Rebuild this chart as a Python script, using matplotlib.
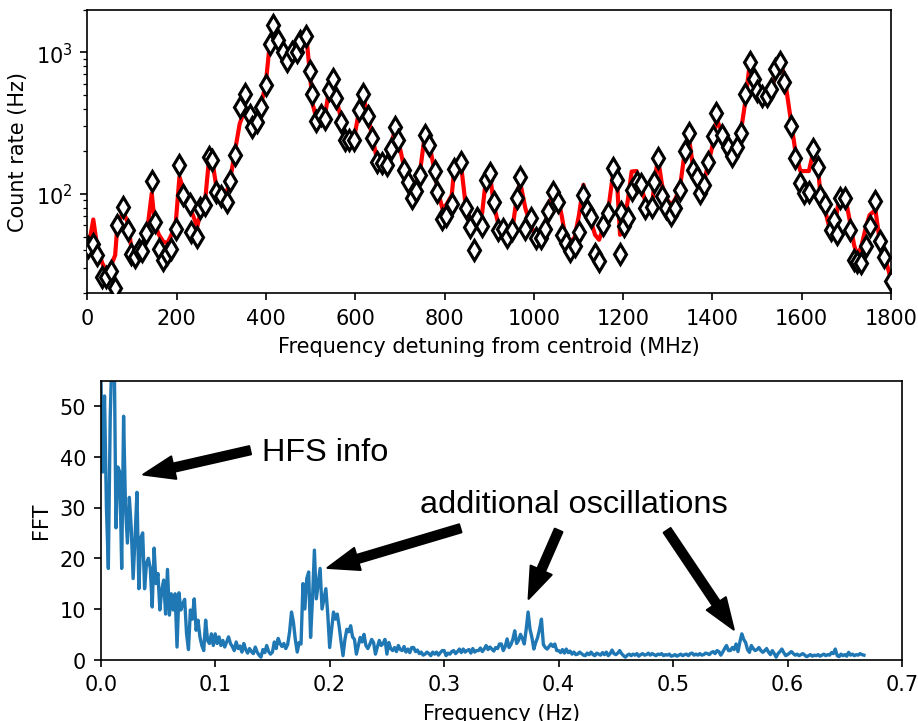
import numpy as np
import matplotlib
matplotlib.use("Agg")
import matplotlib.pyplot as plt

# ---------------- laser scan: count rate vs detuning ----------------
detuning_mhz = [
    2, 13, 22, 33, 42, 52, 62, 67, 80, 91, 98, 106, 115, 123, 132, 144,
    151, 160, 170, 179, 188, 198, 206, 215, 230, 233, 246, 253, 263, 272,
    280, 289, 300, 312, 319, 330, 341, 353, 365, 369, 379, 388, 399, 409,
    416, 427, 439, 448,
    459, 469, 477, 490, 498, 504, 511, 524, 532, 541, 550, 556, 569, 577,
    586, 597, 608, 618, 628, 638, 648, 660, 672, 679, 689, 696, 710, 718,
    726, 735, 745, 756, 766, 778, 784, 795, 804, 816, 822, 836, 847, 857,
    866, 873, 884, 892, 901,
    910, 919, 931, 939, 952, 963, 969, 981, 993, 1004, 1015, 1024, 1032,
    1043, 1054, 1062, 1071, 1081, 1091, 1101, 1111, 1119, 1128, 1137, 1146,
    1155, 1166, 1178, 1187, 1193, 1196, 1202, 1211, 1219, 1230, 1241, 1250,
    1265, 1270, 1278, 1287, 1296, 1308, 1316, 1327, 1338, 1347,
    1356, 1366, 1371, 1381, 1390, 1402, 1409, 1422, 1434, 1444, 1454, 1463,
    1474, 1483, 1493, 1500, 1511, 1523, 1532, 1541, 1552, 1561, 1575, 1586,
    1597, 1605, 1616, 1626, 1636, 1642, 1653, 1666, 1673, 1678, 1685, 1698,
    1708, 1717, 1724, 1733, 1743, 1752, 1765, 1775, 1785, 1799,
]

count_rate_hz = [
    42, 44, 37, 26, 26, 28.5, 21.7, 60, 81, 56, 38, 36, 40.5, 39.5, 53, 123,
    63, 41, 34, 37.5, 41, 57, 160, 98, 85, 54, 50, 79, 83, 181,
    173, 103, 97, 88, 124, 188, 411, 509, 359, 297, 322, 411, 589, 1145,
    1564, 1227, 1011, 873,
    1011, 1000, 1195, 1310, 731, 509, 326, 363, 340, 538, 650, 475, 322, 239,
    239, 239, 389, 509, 355, 249, 169, 164, 161, 209, 297, 242, 148, 121,
    94, 105, 135, 262, 223, 146, 104, 67, 70, 85, 151, 167, 80, 58,
    40.5, 68, 59, 125, 140,
    88, 56, 56.5, 50, 56, 94, 132, 57, 68, 49, 49, 57, 76,
    104, 88, 51.5, 45, 39.8, 42.6, 54, 98, 77, 69, 38, 33.8,
    60.5, 73, 153, 125, 38, 75, 59, 67.5, 107, 122, 117, 80,
    81, 122, 178, 96, 79, 71, 80, 107, 200, 267,
    148, 132, 101, 115, 167, 255, 375, 262, 215, 186, 215, 267,
    509, 851, 643, 529, 491, 491, 553, 764, 851, 615, 302, 178,
    119, 101, 104, 207, 156, 96, 85, 56, 66, 52, 94, 94,
    56, 34, 33, 32.6, 43, 59, 89, 46.8, 36, 24.2,
]

fit_rate_hz = [
    42, 66, 42, 32.6, 28.5, 30.8, 37, 60.5, 75, 62, 42, 37, 40.5, 42.6, 50, 101,
    60.5, 51.5, 46, 45, 51.5, 64, 132, 107, 81, 75, 59, 73, 86, 173,
    169, 110, 101, 104, 122, 198, 313, 400, 359, 340, 363, 422, 583, 1207,
    1459, 1207, 1000, 806,
    948, 973, 1145, 1310, 723, 434, 359, 379, 359, 538, 615, 483, 331, 253,
    239, 246, 379, 483, 359, 253, 178, 169, 173, 221, 282, 239, 151, 116,
    107, 116, 144, 267, 221, 144, 107, 79, 84, 98, 156, 169, 84, 66,
    59, 66, 73, 122, 144,
    84, 64, 56, 51.5, 57, 101, 122, 79, 60.5, 50, 51.5, 57, 77,
    101, 93, 71, 49, 46, 49, 71, 116, 84, 64, 51.5, 47.5,
    57, 75, 144, 110, 51.5, 54, 60.5, 93, 144, 145, 110, 88,
    84, 122, 178, 116, 93, 84, 91, 110, 198, 253,
    160, 132, 107, 122, 160, 233, 340, 267, 221, 198, 221, 267,
    457, 806, 583, 509, 446, 442, 538, 685, 851, 685, 340, 198,
    145, 145, 145, 198, 160, 98, 75, 51.5, 60.5, 71, 101, 93,
    64, 44, 37, 42, 57, 71, 77, 46, 37, 25.6,
]

# dwell time per scan step, used for the Poisson uncertainty of each rate
dwell_s = 2.0

# ---------------- Fourier transform of the scan ----------------
fft_amplitude = [
    58, 37, 52, 30, 18, 48, 62, 64, 26, 38, 37, 18, 48, 30, 23, 32, 26, 16, 24, 33,
    14, 24, 25, 14, 19, 20, 18, 10.4, 22, 15,
    17, 9.8, 13.7, 15.7, 9, 17.8, 8.8, 13, 9.8, 13, 2.5, 13.2, 9.8, 11, 11.9, 5.1,
    2, 9.8, 8, 12, 5.8, 7.8, 4.5, 2.8, 1.8, 7.8, 3.8, 3.2, 5.1, 2.8,
    5.1, 3.2, 4.5, 2.8, 3.8, 2.5, 3.5, 4.5, 3.2, 2.6, 1.8, 3.5, 2.2, 2.7, 1.5, 3.2,
    2.0, 1.3, 2.2, 1.6, 1.2, 2.5, 1.5, 0.9, 0.5, 2.0, 1.4, 2.8, 1.6, 1.1,
    1.5, 3.5, 2.2, 4.2, 3.2, 2.6, 3.2, 2.2, 3.0, 5.5, 9.4, 7.4, 4, 1.5, 3.4, 3.1,
    15, 10, 16, 17.3, 4.4, 12, 21.6, 12, 15, 18, 10, 12, 14, 9,
    2.4, 6, 9.4, 8, 9, 6.5, 3.5, 0.8, 4, 6, 5.5, 6.7, 4.5, 4, 1.1, 2.8, 4.4, 3.5,
    5, 2.8, 2.2, 3, 4, 3.4, 1.1, 2.5, 3.8, 2.8, 3.2, 4,
    1.1, 3.4, 2.2, 1.8, 2.4, 1.6, 2.8, 2.0, 1.8, 2.6, 1.5, 2.1, 1.4, 2.4, 2.4, 1.6,
    1.9, 1.2, 1.5, 0.9, 1.1, 1.5, 1.2, 0.8, 1.5, 1.1, 1.5, 0.9, 1.4, 1.8,
    1.8, 0.8, 1.3, 1.1, 1.6, 1.8, 1.2, 1.6, 2.1, 1.4, 2.1, 1.5, 1.8, 2.0, 1.3, 2.2,
    1.5, 1.8, 1.8, 2.3, 1.6, 2.1, 2.8, 2.0, 2.5, 2.1, 1.7, 2.4, 2.2, 3.1,
    3.1, 1.8, 2.6, 4.1, 2.4, 3.0, 4.0, 5.7, 3.2, 3.8, 5.0, 4.2, 3.1, 6.0, 9.4, 6.0,
    4.4, 2.1, 3.4, 4.4, 6.0, 8.0, 3.0, 2.4, 2.1, 2.6, 3.1, 2.6, 3.1, 1.8,
    1.8, 1.4, 2.0, 1.3, 2.1, 1.4, 1.7, 1.1, 1.5, 1.0, 1.1, 1.5, 1.2, 0.9, 0.8, 1.3,
    1.0, 1.5, 1.0, 0.8, 1.3, 1.1, 0.9, 1.4, 1.0, 1.5, 0.8, 1.2, 1.9, 1.2,
    1.0, 1.3, 1.8, 1.2, 0.8, 0.5, 0.9, 1.1, 0.8, 1.1, 0.9, 1.2, 0.7, 1.0, 1.2, 0.9,
    1.0, 1.3, 0.9, 1.2, 1.0, 0.8, 1.1, 1.0, 1.2, 0.8, 1.0, 0.9, 1.1, 0.7,
    0.8, 1.0, 0.7, 0.9, 1.1, 0.8, 1.0, 1.1, 0.8, 1.2, 1.3, 0.9, 1.1, 0.9, 1.2, 0.9,
    1.0, 1.3, 1.2, 1.0, 1.4, 1.6, 1.2, 1.8, 1.6, 0.9, 1.5, 2.2, 2.8, 1.8,
    1.8, 2.4, 2.0, 3.1, 1.6, 3.5, 5.1, 4.0, 3.4, 2.0, 1.45, 2.8, 2.2, 1.8, 2.0, 2.4,
    1.8, 1.45, 1.8, 2.2, 1.5, 1.0, 1.8, 1.2, 0.5, 1.2, 1.6, 2.1, 1.4, 0.8,
    1.0, 1.3, 1.6, 1.2, 0.9, 1.1, 0.8, 1.0, 1.2, 0.9, 0.6, 0.8, 1.0, 0.7, 0.9, 0.8,
    1.0, 0.7, 0.9, 1.1, 0.8, 1.0, 0.9, 1.4, 1.2, 2.1, 0.8, 0.6, 1.1, 0.8, 1.0, 0.7,
    1.45, 0.9, 1.1, 0.8, 1.0, 0.9, 1.2, 1.0, 0.9,
]
fft_nyquist_hz = 0.6667

x = np.asarray(detuning_mhz, dtype=float)
y = np.asarray(count_rate_hz, dtype=float)
y_fit = np.asarray(fit_rate_hz, dtype=float)
y_err = np.sqrt(y * dwell_s) / dwell_s

fft_amp = np.asarray(fft_amplitude, dtype=float)
fft_freq = np.linspace(0.0, fft_nyquist_hz, len(fft_amp))

fig = plt.figure(figsize=(6.12, 4.813), dpi=150)
ax1 = fig.add_axes([0.0953, 0.5928, 0.8753, 0.3927])
ax2 = fig.add_axes([0.1097, 0.0849, 0.8729, 0.3864])

# top panel: measured rates with the smoothed curve underneath
ax1.plot(x, y_fit, color="red", lw=2.0, zorder=2)
ax1.errorbar(x, y, yerr=y_err, fmt="d", color="black", mfc="white",
             mec="black", ms=6.5, mew=1.5, elinewidth=1.0, capsize=0, zorder=3)
ax1.set_yscale("log")
ax1.set_xlim(0, 1800)
ax1.set_ylim(20, 2000)
ax1.set_xticks(np.arange(0, 1801, 200))
ax1.set_xlabel("Frequency detuning from centroid (MHz)")
ax1.set_ylabel("Count rate (Hz)")

# bottom panel: spectrum of the scan
ax2.plot(fft_freq, fft_amp, color="#1f77b4", lw=1.6)
ax2.set_xlim(0, 0.7)
ax2.set_ylim(0, 55)
ax2.set_yticks([0, 10, 20, 30, 40, 50])
ax2.set_xlabel("Frequency (Hz)")
ax2.set_ylabel("FFT")

note_font = dict(fontsize=15.6, family=["Liberation Sans", "DejaVu Sans"],
                 ha="left", va="baseline")
ax2.text(0.1407, 39.3, "HFS info", **note_font)
ax2.text(0.2791, 29.2, "additional oscillations", **note_font)

arrow_style = dict(facecolor="black", edgecolor="black", width=4,
                   headwidth=11, headlength=15, shrink=0.0)
arrows = [
    ((0.1305, 41.3), (0.0372, 36.5)),
    ((0.3141, 25.9), (0.1981, 18.1)),
    ((0.4000, 25.5), (0.3738, 12.0)),
    ((0.4948, 25.5), (0.5530, 5.94)),
]
for tail, tip in arrows:
    ax2.annotate("", xy=tip, xytext=tail, arrowprops=arrow_style)

fig.savefig("out.png", dpi=150)
